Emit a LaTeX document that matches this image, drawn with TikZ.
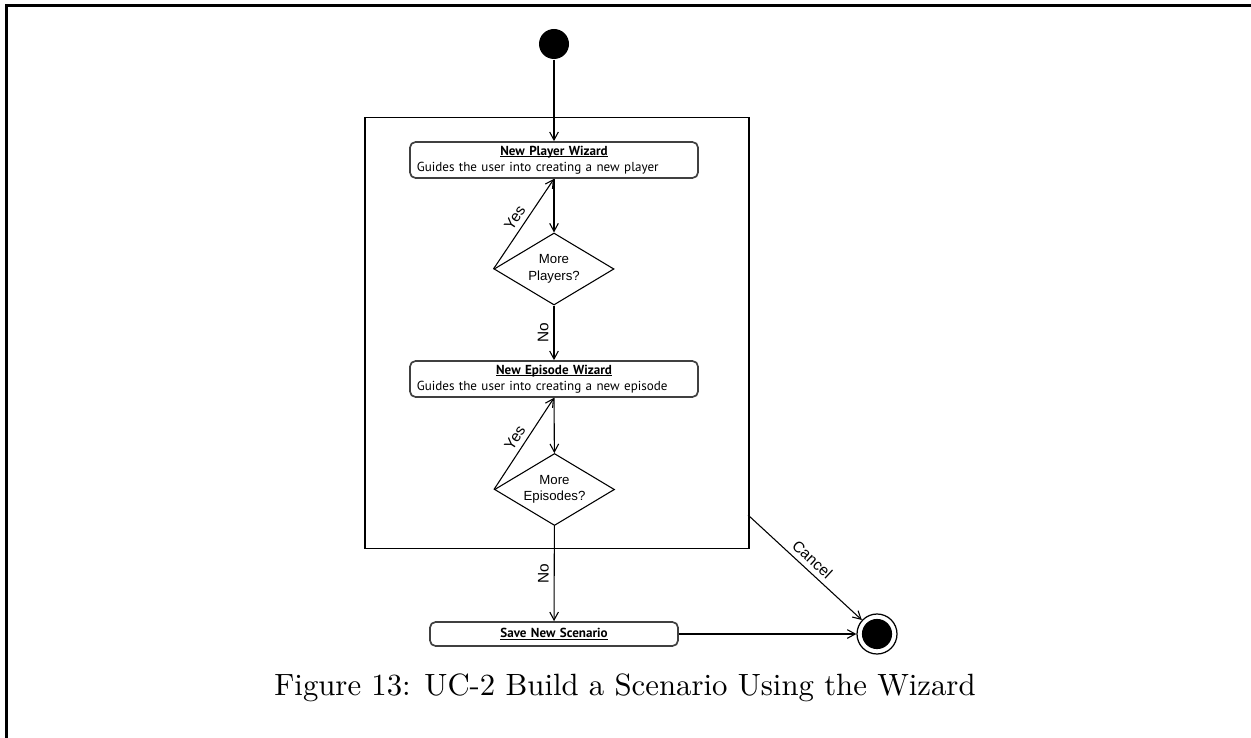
\documentclass[tikz,border=0pt]{standalone}
\usepackage{fontspec}
\newfontfamily\boxfont{PT Sans}
\newfontfamily\helv{Liberation Sans}
\newcommand{\boxtitle}[1]{\setbox0\hbox{\textbf{#1}}\makebox[\linewidth]{\rlap{\rule[-0.6pt]{\wd0}{0.3pt}}\box0}}
\usetikzlibrary{shapes.geometric, arrows.meta}

\begin{document}
\begin{tikzpicture}[x = 0.325pt, y = -0.325pt,
        every node/.style = {inner sep = 0pt},
        action/.style = {draw = black!75, line width = 0.55pt, rounded corners = 1.8pt, inner xsep = 2.2pt, minimum width = 93.6pt, minimum height = 11.7pt, text width = 89.2pt, align = left, font = \boxfont\fontsize{4.25}{5.2}\selectfont},
        decision/.style = {diamond, draw, line width = 0.35pt, aspect = 1.67, minimum width = 39pt, minimum height = 23.4pt, align = center, font = \helv\fontsize{4.3}{5.4}\selectfont},
        flow/.style = {line width = 0.35pt, -{Straight Barb[length = 2.6pt, width = 2.8pt]}},
        guard/.style = {font = \helv\fontsize{5}{6}\selectfont, inner sep = 1.6pt}]

            \useasboundingbox (0, 0) rectangle (1251, 738);
            \draw[line width = 0.7pt] (6.5, 738) -- (6.5, 5.5) -- (1251, 5.5);

            \node (wizard) at (557, 333) [draw, line width = 0.35pt, minimum width = 124.8pt, minimum height = 140.2pt] {};

            \node (start) at (554, 44) [circle, fill, minimum size = 9.75pt] {};

            \node (player) at (554, 160) [action] {\boxtitle{New Player Wizard}\\Guides the user into creating a new player};
            \node (players) at (554, 269) [decision] {More\\Players?};

            \node (episode) at (554, 379) [action] {\boxtitle{New Episode Wizard}\\Guides the user into creating a new episode};
            \node (episodes) at (554.5, 489.5) [decision] {More\\Episodes?};

            \node (save) at (554, 634) [action, minimum width = 80.6pt, text width = 76.2pt, minimum height = 7.8pt] {\boxtitle{Save New Scenario}};

            \node (end) at (877, 634) [circle, draw, line width = 0.4pt, minimum size = 13pt, path picture = {\fill (path picture bounding box.center) circle (4.9pt);}] {};
            \coordinate (cancel) at (748, 515);

            \draw[flow] (start) -- (player);
            \draw[flow] (player) -- (players);
            \draw[flow] (players.west) -- node[guard, midway, above, sloped] {Yes} (player.south);
            \draw[flow] (players) -- node[guard, midway, anchor = south, rotate = 90] {No} (episode);

            \draw[flow] (episode) -- (episodes);
            \draw[flow] (episodes.west) -- node[guard, midway, above, sloped] {Yes} (episode.south);
            \draw[flow] (episodes) -- node[guard, midway, anchor = south, rotate = 90] {No} (save);

            \draw[flow] (save) -- (end);
            \draw[flow] (cancel) -- node[guard, midway, above, sloped] {Cancel} (end);

            \node (caption) at (625, 688) {Figure 13: UC-2 Build a Scenario Using the Wizard};
        \end{tikzpicture}
\end{document}
